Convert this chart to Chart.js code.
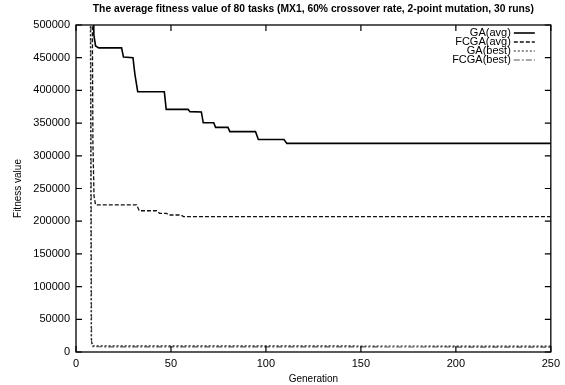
<!DOCTYPE html>
<html>
<head>
<meta charset="utf-8">
<script src="https://cdn.jsdelivr.net/npm/chart.js@4/dist/chart.umd.min.js"></script>
<style>
  body { margin: 0; background: #fff; }
  #wrap { width: 565px; height: 385px; }
</style>
</head>
<body>
<div id="wrap"><canvas id="fitChart"></canvas></div>
<script>
// generation / value pairs (above 500000 is clipped)
var gaAvgGen = [8.8, 9.4, 10.3, 12, 24, 25, 30, 31, 32.5, 46.5, 47.5, 59, 60, 66, 67, 72.5, 73.5, 80, 81, 94.5, 96, 109.5, 111, 250];
var gaAvgVal = [700000, 485000, 468000, 465000, 465000, 451000, 450000, 425000, 398000, 398000, 371000, 371000, 367500, 367000, 350500, 350500, 343500, 343500, 337000, 337000, 325000, 325000, 319000, 319000];

var fcgaAvgGen = [8.3, 8.9, 9.5, 10.3, 31.9, 33.3, 42.4, 44, 47.6, 49, 55.4, 56.5, 250];
var fcgaAvgVal = [700000, 320000, 238000, 225000, 225000, 216000, 216000, 212000, 212000, 209500, 209500, 207000, 207000];

var gaBestGen = [7.4, 8.0, 8.6, 250];
var gaBestVal = [700000, 20000, 9500, 9000];

var fcgaBestGen = [7.6, 8.2, 8.9, 250];
var fcgaBestVal = [700000, 15000, 8000, 7500];

var xTicks = [0, 50, 100, 150, 200, 250];
var yTicks = [0, 50000, 100000, 150000, 200000, 250000, 300000, 350000, 400000, 450000, 500000];

var chartTitle = "The average fitness value of 80 tasks (MX1, 60% crossover rate, 2-point mutation, 30 runs)";

function pts(gen, val) {
  var out = [];
  for (var i = 0; i < gen.length; i++) out.push({x: gen[i], y: val[i]});
  return out;
}

var FONT = "'Liberation Sans', Arial, sans-serif";

// gnuplot style frame with inward ticks on all four sides
var framePlugin = {
  id: "frame",
  afterDatasetsDraw: function(chart) {
    var ctx = chart.ctx, a = chart.chartArea;
    var xs = chart.scales.x, ys = chart.scales.y;
    ctx.save();
    ctx.strokeStyle = "#000";
    ctx.lineWidth = 1.3;
    ctx.strokeRect(a.left, a.top, a.right - a.left, a.bottom - a.top);
    ctx.lineWidth = 1.2;
    ctx.beginPath();
    xTicks.forEach(function(v) {
      var px = xs.getPixelForValue(v);
      ctx.moveTo(px, a.bottom); ctx.lineTo(px, a.bottom - 6);
      ctx.moveTo(px, a.top); ctx.lineTo(px, a.top + 6);
    });
    yTicks.forEach(function(v) {
      var py = ys.getPixelForValue(v);
      ctx.moveTo(a.left, py); ctx.lineTo(a.left + 6, py);
      ctx.moveTo(a.right, py); ctx.lineTo(a.right - 6, py);
    });
    ctx.stroke();
    ctx.restore();
  }
};

// title centred over the plot box, key in the upper right
var textPlugin = {
  id: "texts",
  afterDraw: function(chart) {
    var ctx = chart.ctx, a = chart.chartArea;
    ctx.save();
    ctx.fillStyle = "#000";
    ctx.font = "bold 10.3px " + FONT;
    ctx.textAlign = "center";
    ctx.textBaseline = "middle";
    ctx.fillText(chartTitle, (a.left + a.right) / 2, 9);

    ctx.font = "11px " + FONT;
    ctx.textAlign = "right";
    chart.data.datasets.forEach(function(ds, i) {
      var y = a.top + 8 + i * 9;
      ctx.fillText(ds.label, a.right - 40, y);
      ctx.beginPath();
      ctx.strokeStyle = ds.borderColor;
      ctx.lineWidth = ds.borderWidth;
      ctx.setLineDash(ds.borderDash || []);
      ctx.moveTo(a.right - 37, y);
      ctx.lineTo(a.right - 16, y);
      ctx.stroke();
    });
    ctx.restore();
  }
};

var ctx = document.getElementById("fitChart").getContext("2d");

new Chart(ctx, {
  type: "line",
  data: {
    datasets: [
      { label: "GA(avg)", data: pts(gaAvgGen, gaAvgVal), borderColor: "#000", borderWidth: 1.6, borderDash: [] },
      { label: "FCGA(avg)", data: pts(fcgaAvgGen, fcgaAvgVal), borderColor: "#111", borderWidth: 1.3, borderDash: [4, 2] },
      { label: "GA(best)", data: pts(gaBestGen, gaBestVal), borderColor: "#222", borderWidth: 1.2, borderDash: [2, 2] },
      { label: "FCGA(best)", data: pts(fcgaBestGen, fcgaBestVal), borderColor: "#555", borderWidth: 1.2, borderDash: [6, 2, 2, 2] }
    ]
  },
  options: {
    responsive: true,
    maintainAspectRatio: false,
    animation: false,
    elements: { point: { radius: 0 }, line: { tension: 0, fill: false } },
    layout: { padding: { left: 0, right: 10, top: 25, bottom: 0 } },
    plugins: {
      legend: { display: false },
      tooltip: { enabled: false },
      title: { display: false }
    },
    scales: {
      x: {
        type: "linear",
        min: 0,
        max: 250,
        afterFit: function(s) { s.height = 33; },
        afterBuildTicks: function(s) { s.ticks = xTicks.map(function(v) { return {value: v}; }); },
        grid: { display: false, drawTicks: false },
        border: { display: false },
        ticks: { color: "#000", padding: 5, font: { family: FONT, size: 11 }, maxRotation: 0 },
        title: { display: true, text: "Generation", color: "#000", font: { family: FONT, size: 10 }, padding: { top: 1, bottom: 0 } }
      },
      y: {
        type: "linear",
        min: 0,
        max: 500000,
        afterFit: function(s) { s.width = 76; },
        afterBuildTicks: function(s) { s.ticks = yTicks.map(function(v) { return {value: v}; }); },
        grid: { display: false, drawTicks: false },
        border: { display: false },
        ticks: {
          color: "#000",
          padding: 6,
          font: { family: FONT, size: 11 },
          callback: function(v) { return String(v); }
        },
        title: { display: true, text: "Fitness value", color: "#000", font: { family: FONT, size: 10 }, padding: { top: 12, bottom: 0 } }
      }
    }
  },
  plugins: [framePlugin, textPlugin]
});
</script>
</body>
</html>
